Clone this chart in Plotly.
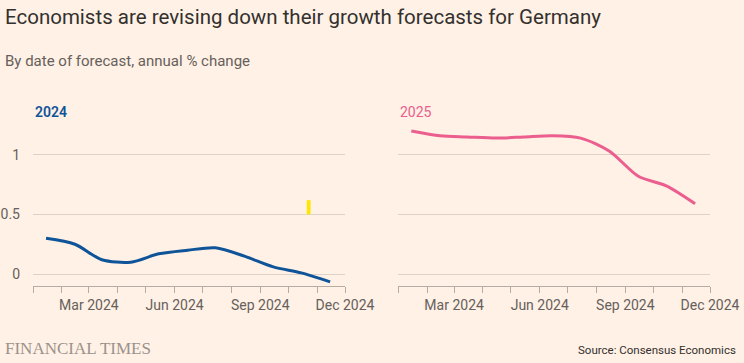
import plotly.graph_objects as go

# ---- data ----
forecast_dates = ["2024-01-15", "2024-02-15", "2024-03-15", "2024-04-15", "2024-05-15",
                  "2024-06-15", "2024-07-15", "2024-08-15", "2024-09-15", "2024-10-15",
                  "2024-11-15"]
growth_2024 = [0.30, 0.25, 0.12, 0.10, 0.17, 0.20, 0.22, 0.15, 0.06, 0.01, -0.065]
growth_2025 = [1.20, 1.16, 1.15, 1.14, 1.15, 1.16, 1.14, 1.03, 0.82, 0.74, 0.59]

month_ticks = ["2024-01-01", "2024-02-01", "2024-03-01", "2024-04-01", "2024-05-01",
               "2024-06-01", "2024-07-01", "2024-08-01", "2024-09-01", "2024-10-01",
               "2024-11-01", "2024-12-01"]
month_labels = ["", "", "Mar 2024", "", "", "Jun 2024", "", "", "Sep 2024", "", "", "Dec 2024"]
y_ticks = [0, 0.5, 1]
y_labels = ["0", "0.5", "1"]

BG = "#fff1e5"
GRID = "#dcd2c8"
AXIS = "#b5aca4"
TEXT = "#66605c"
BLUE = "#0f5499"
PINK = "#eb5e8d"
FONT = "Roboto"

W, H = 744, 363

fig = go.Figure()
fig.add_trace(go.Scatter(x=forecast_dates, y=growth_2024, mode="lines",
                         line=dict(color=BLUE, width=3, shape="spline", smoothing=0.8),
                         xaxis="x", yaxis="y", showlegend=False, hoverinfo="skip"))
fig.add_trace(go.Scatter(x=forecast_dates, y=growth_2025, mode="lines",
                         line=dict(color=PINK, width=3, shape="spline", smoothing=0.8),
                         xaxis="x2", yaxis="y2", showlegend=False, hoverinfo="skip"))

y_bottom = (H - 286) / H
y_top = (H - 125) / H
yrange = [-0.1, 1.25]

xcommon = dict(type="date", range=["2024-01-01", "2024-12-01"],
               tickmode="array", tickvals=month_ticks, ticktext=month_labels,
               ticks="outside", ticklen=6, tickcolor=AXIS, tickwidth=1,
               showline=True, linecolor=AXIS, linewidth=1,
               showgrid=False, zeroline=False, automargin=False,
               tickfont=dict(family=FONT, size=14, color=TEXT))
ycommon = dict(range=yrange, tickmode="array", tickvals=y_ticks, ticktext=y_labels,
               showgrid=True, gridcolor=GRID, gridwidth=1, zeroline=False,
               showline=False, ticks="", automargin=False,
               tickfont=dict(family=FONT, size=14, color=TEXT))

fig.update_layout(
    width=W, height=H,
    paper_bgcolor=BG, plot_bgcolor=BG,
    margin=dict(l=0, r=0, t=0, b=0, pad=0, autoexpand=False),
    xaxis=dict(domain=[33 / W, 345 / W], anchor="y", **xcommon),
    yaxis=dict(domain=[y_bottom, y_top], anchor="x", ticklabelstandoff=12, **ycommon),
    xaxis2=dict(domain=[398.3 / W, 710 / W], anchor="y2", **xcommon),
    yaxis2=dict(domain=[y_bottom, y_top], anchor="x2", showticklabels=False, **ycommon),
    showlegend=False,
)

def note(text, x, y, xanchor, size, color, family=FONT, weight="normal"):
    return dict(text=text, xref="paper", yref="paper", x=x / W, y=(H - y) / H,
                xanchor=xanchor, yanchor="middle", showarrow=False,
                font=dict(family=family, size=size, color=color, weight=weight))

anns = [
    note("Economists are revising down their growth forecasts for Germany", 3, 17, "left", 20.5, "#33302e"),
    note("By date of forecast, annual % change", 3, 61, "left", 15, TEXT),
    note("2024", 33, 112, "left", 14, BLUE, weight=600),
    note("2025", 398, 112, "left", 14, PINK),
    note("FINANCIAL TIMES", 3, 348, "left", 17, "#9a928c", "Liberation Serif"),
    note("Source: Consensus Economics", 738, 350, "right", 11.5, "#33302e"),
]
fig.update_layout(annotations=anns)

# small yellow highlight mark visible in the reference
fig.add_shape(type="rect", xref="x", yref="y", x0="2024-10-21", x1="2024-10-25",
              y0=0.5, y1=0.62, fillcolor="#ffe600", line=dict(width=0))

fig.write_html("out.html", config={"displayModeBar": False},
               post_script="document.body.style.margin='0';")
